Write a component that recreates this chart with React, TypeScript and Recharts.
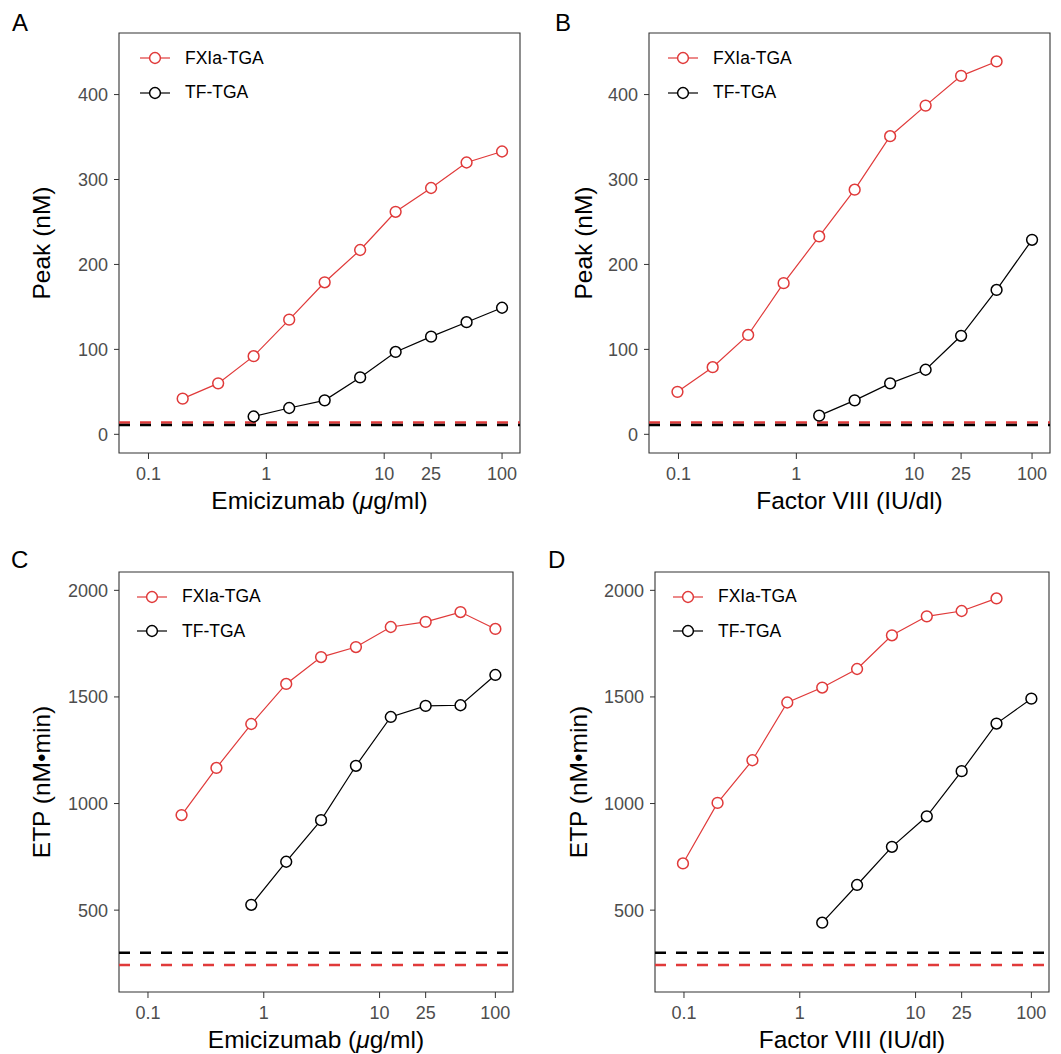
import type { ReactNode } from 'react';
import {
  LineChart, Line, XAxis, YAxis, ReferenceLine, ReferenceArea, Legend,
} from 'recharts';

const FONT = '"Liberation Sans", Arial, Helvetica, sans-serif';
const RED = '#E03A3A';
const BLACK = '#000000';
const AXIS = '#333333';
const TICK_TEXT = '#4D4D4D';

// concentrations (doubling dilutions)
const EMI_FXIA_X = [0.195, 0.39, 0.78, 1.5625, 3.125, 6.25, 12.5, 25, 50, 100];
const EMI_TF_X = [0.78, 1.5625, 3.125, 6.25, 12.5, 25, 50, 100];
const FVIII_FXIA_X = [0.098, 0.195, 0.39, 0.78, 1.5625, 3.125, 6.25, 12.5, 25, 50];
const FVIII_TF_X = [1.5625, 3.125, 6.25, 12.5, 25, 50, 100];

// peak thrombin (nM)
const PEAK_EMI_FXIA = [42, 60, 92, 135, 179, 217, 262, 290, 320, 333];
const PEAK_EMI_TF = [21, 31, 40, 67, 97, 115, 132, 149];
const PEAK_FVIII_FXIA = [50, 79, 117, 178, 233, 288, 351, 387, 422, 439];
const PEAK_FVIII_TF = [22, 40, 60, 76, 116, 170, 229];

// endogenous thrombin potential (nM·min)
const ETP_EMI_FXIA = [946, 1167, 1373, 1561, 1687, 1734, 1828, 1852, 1898, 1819];
const ETP_EMI_TF = [525, 727, 922, 1177, 1406, 1458, 1461, 1603];
const ETP_FVIII_FXIA = [719, 1003, 1203, 1474, 1544, 1631, 1789, 1878, 1903, 1962];
const ETP_FVIII_TF = [441, 618, 797, 940, 1152, 1375, 1492];

// baseline (no drug) levels, dashed
const PEAK_BASE_FXIA = 14;
const PEAK_BASE_TF = 11;
const ETP_BASE_FXIA = 243;
const ETP_BASE_TF = 300;

const X_TICKS = [0.1, 1, 10, 25, 100];
const X_DOMAIN: [number, number] = [0.0562, 142];
const PEAK_TICKS = [0, 100, 200, 300, 400];
const PEAK_DOMAIN: [number, number] = [-22, 472.5];
const ETP_TICKS = [500, 1000, 1500, 2000];
const ETP_DOMAIN: [number, number] = [116, 2086];

const toPoints = (xs: number[], ys: number[]) => xs.map((x, i) => ({ x, y: ys[i] }));

const EMI_TITLE = <>Emicizumab (<tspan fontStyle="italic">μ</tspan>g/ml)</>;
const FVIII_TITLE = <>Factor VIII (IU/dl)</>;

interface Series { name: string; color: string; xs: number[]; ys: number[] }

interface PanelCfg {
  letter: string;
  letterPos: { x: number; y: number };
  left: number;
  top: number;
  margin: { top: number; right: number; bottom: number; left: number };
  yTitleOffset: number;
  legendPos: { left: number; top: number };
  xTitle: ReactNode;
  yTitle: string;
  yTicks: number[];
  yDomain: [number, number];
  series: Series[];
  baseFxia: number;
  baseTf: number;
}

const twoAssays = (fx: number[], fy: number[], tx: number[], ty: number[]): Series[] => [
  { name: 'FXIa-TGA', color: RED, xs: fx, ys: fy },
  { name: 'TF-TGA', color: BLACK, xs: tx, ys: ty },
];

const PANELS: PanelCfg[] = [
  {
    letter: 'A', letterPos: { x: 12, y: 30.5 }, left: 0, top: 0,
    margin: { top: 33, right: 10, bottom: 14, left: 0 }, yTitleOffset: 50,
    legendPos: { left: 140, top: 41 },
    xTitle: EMI_TITLE, yTitle: 'Peak (nM)', yTicks: PEAK_TICKS, yDomain: PEAK_DOMAIN,
    series: twoAssays(EMI_FXIA_X, PEAK_EMI_FXIA, EMI_TF_X, PEAK_EMI_TF),
    baseFxia: PEAK_BASE_FXIA, baseTf: PEAK_BASE_TF,
  },
  {
    letter: 'B', letterPos: { x: 555, y: 30.5 }, left: 530, top: 0,
    margin: { top: 33, right: 10, bottom: 14, left: 0 }, yTitleOffset: 61.5,
    legendPos: { left: 138, top: 41 },
    xTitle: FVIII_TITLE, yTitle: 'Peak (nM)', yTicks: PEAK_TICKS, yDomain: PEAK_DOMAIN,
    series: twoAssays(FVIII_FXIA_X, PEAK_FVIII_FXIA, FVIII_TF_X, PEAK_FVIII_TF),
    baseFxia: PEAK_BASE_FXIA, baseTf: PEAK_BASE_TF,
  },
  {
    letter: 'C', letterPos: { x: 11, y: 567.5 }, left: 0, top: 527,
    margin: { top: 45, right: 17, bottom: 2, left: 0 }, yTitleOffset: 50,
    legendPos: { left: 137, top: 52.5 },
    xTitle: EMI_TITLE, yTitle: 'ETP (nM•min)', yTicks: ETP_TICKS, yDomain: ETP_DOMAIN,
    series: twoAssays(EMI_FXIA_X, ETP_EMI_FXIA, EMI_TF_X, ETP_EMI_TF),
    baseFxia: ETP_BASE_FXIA, baseTf: ETP_BASE_TF,
  },
  {
    letter: 'D', letterPos: { x: 548, y: 567.5 }, left: 530, top: 527,
    margin: { top: 45, right: 11, bottom: 2, left: 6 }, yTitleOffset: 50.5,
    legendPos: { left: 143, top: 52.5 },
    xTitle: FVIII_TITLE, yTitle: 'ETP (nM•min)', yTicks: ETP_TICKS, yDomain: ETP_DOMAIN,
    series: twoAssays(FVIII_FXIA_X, ETP_FVIII_FXIA, FVIII_TF_X, ETP_FVIII_TF),
    baseFxia: ETP_BASE_FXIA, baseTf: ETP_BASE_TF,
  },
];

function SeriesKey({ payload }: any) {
  return (
    <div style={{ fontFamily: FONT, fontSize: 17.5 }}>
      {(payload ?? []).map((item: any) => (
        <div key={item.value} style={{ display: 'flex', alignItems: 'center', height: 34.5 }}>
          <svg width={30} height={14} style={{ display: 'block' }}>
            <line x1={0} x2={30} y1={7} y2={7} stroke={item.color} strokeWidth={1.2} />
            <circle cx={15} cy={7} r={5.4} fill="#fff" stroke={item.color} strokeWidth={1.5} />
          </svg>
          <span style={{ marginLeft: 15, color: '#000', lineHeight: 1 }}>{item.value}</span>
        </div>
      ))}
    </div>
  );
}

function Panel({ cfg }: { cfg: PanelCfg }) {
  const xTitle = ({ viewBox }: any) => (
    <text
      x={viewBox.x + viewBox.width / 2} y={viewBox.y + viewBox.height - 4.5}
      textAnchor="middle" fontSize={24.5} fontFamily={FONT} fill="#000"
    >
      {cfg.xTitle}
    </text>
  );
  const yTitle = ({ viewBox }: any) => {
    const x = viewBox.x + cfg.yTitleOffset;
    const y = viewBox.y + viewBox.height / 2;
    return (
      <text
        x={x} y={y} transform={`rotate(-90 ${x} ${y})`}
        textAnchor="middle" fontSize={24.5} fontFamily={FONT} fill="#000"
      >
        {cfg.yTitle}
      </text>
    );
  };

  return (
    <div style={{ position: 'absolute', left: cfg.left, top: cfg.top }}>
      <LineChart width={530} height={527} margin={cfg.margin}>
        <XAxis
          type="number" dataKey="x" scale="log" domain={X_DOMAIN} allowDataOverflow
          ticks={X_TICKS} tickFormatter={v => String(v)} interval={0}
          height={60} axisLine={false} stroke={AXIS} tickSize={6} tickMargin={8}
          tick={{ fill: TICK_TEXT, fontSize: 18, fontFamily: FONT }}
          label={{ content: xTitle }}
        />
        <YAxis
          type="number" domain={cfg.yDomain} allowDataOverflow ticks={cfg.yTicks} interval={0}
          width={119} axisLine={false} stroke={AXIS} tickSize={5} tickMargin={6}
          tick={{ fill: TICK_TEXT, fontSize: 18, fontFamily: FONT }}
          label={{ content: yTitle }}
        />
        <ReferenceArea
          x1={X_DOMAIN[0]} x2={X_DOMAIN[1]} y1={cfg.yDomain[0]} y2={cfg.yDomain[1]}
          fill="none" fillOpacity={0} stroke={AXIS} strokeWidth={1.1} ifOverflow="visible"
        />
        <ReferenceLine y={cfg.baseFxia} stroke={RED} strokeWidth={2.5} strokeDasharray="11 10" />
        <ReferenceLine y={cfg.baseTf} stroke={BLACK} strokeWidth={2.5} strokeDasharray="11 10" />
        <Legend
          layout="horizontal" verticalAlign="middle" align="center"
          wrapperStyle={{ left: cfg.legendPos.left, top: cfg.legendPos.top, width: 'auto' }}
          content={SeriesKey}
        />
        {cfg.series.map(s => (
          <Line
            key={s.name}
            name={s.name}
            data={toPoints(s.xs, s.ys)}
            dataKey="y"
            type="linear"
            stroke={s.color}
            strokeWidth={1.2}
            dot={{ r: 5.4, fill: '#fff', stroke: s.color, strokeWidth: 1.5 }}
            activeDot={false}
            isAnimationActive={false}
          />
        ))}
      </LineChart>
    </div>
  );
}

export default function App() {
  return (
    <div style={{
      position: 'absolute', left: 0, top: 0, width: 1061, height: 1054,
      background: '#fff', fontFamily: FONT, overflow: 'hidden',
    }}>
      {PANELS.map(p => <Panel key={p.letter} cfg={p} />)}
      <svg width={1061} height={1054} style={{ position: 'absolute', left: 0, top: 0, pointerEvents: 'none' }}>
        {PANELS.map(p => (
          <text key={p.letter} x={p.letterPos.x} y={p.letterPos.y} fontSize={24} fontFamily={FONT} fill="#000">
            {p.letter}
          </text>
        ))}
      </svg>
    </div>
  );
}
